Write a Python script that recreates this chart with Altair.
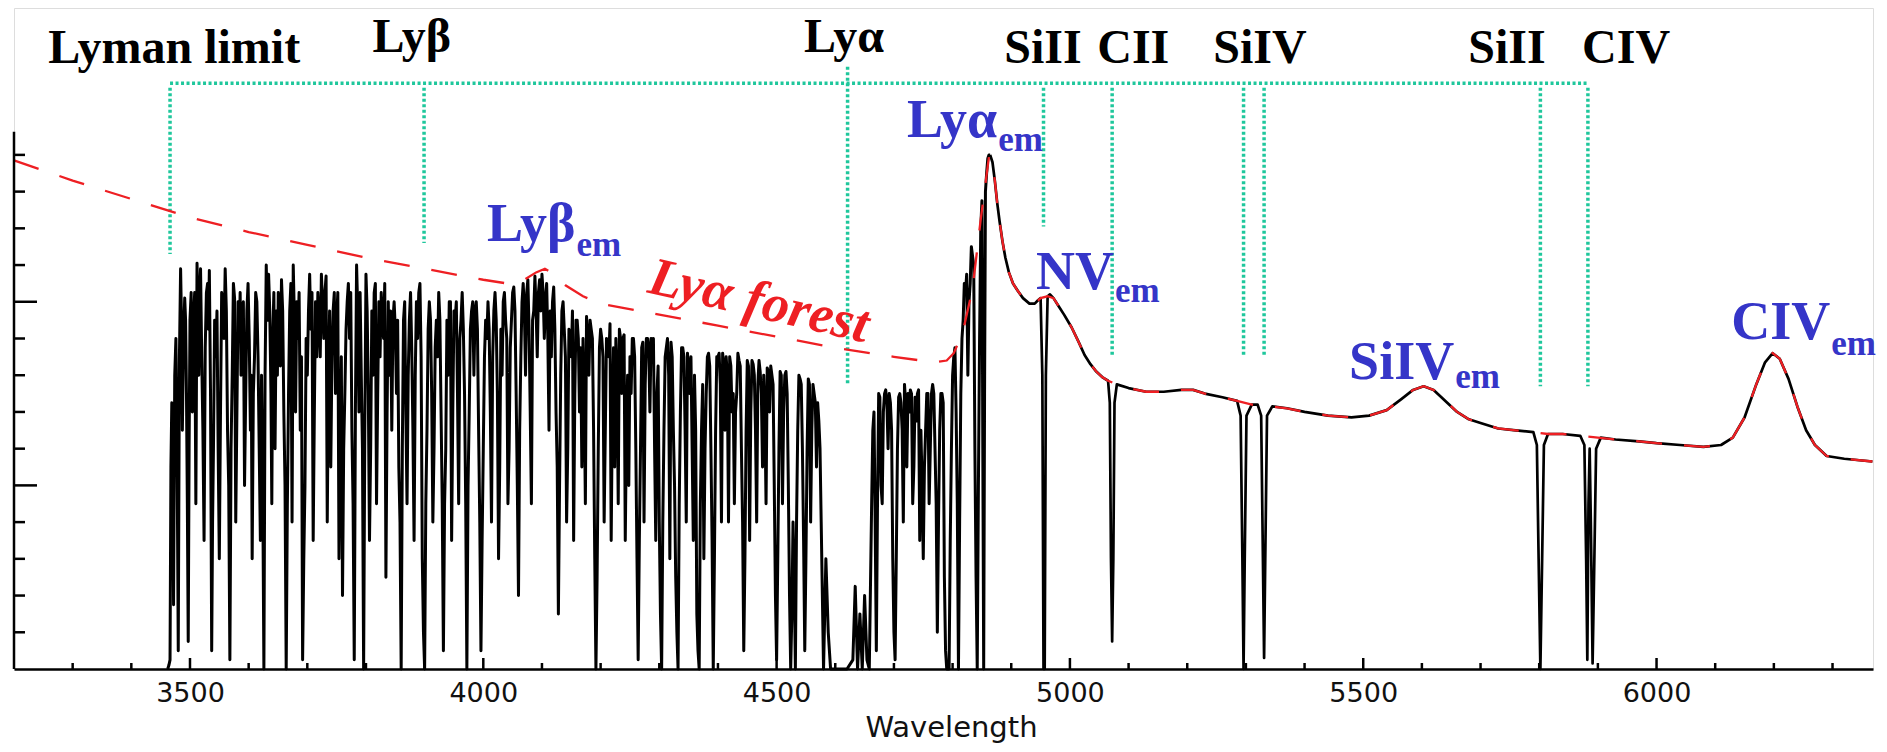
import altair as alt
import pandas as pd

# ---------------- data ----------------
# Lyman-alpha forest part of the spectrum (wavelength, flux): main samples
forest_wave = [
    3462, 3466, 3469, 3472, 3476, 3480, 3484, 3487, 3491, 3494,
    3497, 3500, 3504, 3508, 3512, 3515, 3518, 3522, 3526, 3530,
    3533, 3537, 3540, 3544, 3548, 3552, 3556, 3560, 3564, 3568,
    3572, 3576, 3580, 3584, 3587, 3591, 3595, 3599, 3603, 3606,
    3610, 3614, 3618, 3622, 3626, 3630, 3634, 3638, 3641, 3645,
    3649, 3652, 3656, 3660, 3664, 3668, 3672, 3676, 3680, 3684,
    3688, 3692, 3696, 3700, 3704, 3708, 3712, 3716, 3720, 3724,
    3728, 3732, 3736, 3740, 3744, 3748, 3752, 3756, 3760, 3764,
    3768, 3772, 3776, 3780, 3784, 3788, 3792, 3796, 3800, 3804,
    3808, 3812, 3816, 3820, 3824, 3828, 3832, 3836, 3840, 3844,
    3848, 3852, 3856, 3860, 3864, 3868, 3872, 3876, 3880, 3884,
    3888, 3892, 3896, 3900, 3904, 3908, 3912, 3916, 3920, 3924,
    3928, 3932, 3936, 3940, 3944, 3948, 3952, 3956, 3960, 3964,
    3968, 3972, 3976, 3980, 3984, 3988, 3992, 3996, 4000, 4004,
    4008, 4012, 4016, 4020, 4024, 4028, 4032, 4036, 4040, 4044,
    4048, 4052, 4056, 4060, 4064, 4068, 4072, 4076, 4080, 4084,
    4088, 4092, 4096, 4100, 4104, 4108, 4112, 4116, 4120, 4124,
    4128, 4132, 4136, 4140, 4144, 4148, 4152, 4156, 4160, 4164,
    4168, 4172, 4176, 4180, 4184, 4188, 4192, 4196, 4200, 4204,
    4208, 4212, 4216, 4220, 4224, 4228, 4232, 4236, 4240, 4244,
    4248, 4252, 4256, 4260, 4264, 4268, 4272, 4276, 4280, 4284,
    4288, 4292, 4296, 4300, 4304, 4308, 4312, 4316, 4320, 4324,
    4328, 4332, 4336, 4340, 4344, 4348, 4352, 4356, 4360, 4364,
    4368, 4372, 4376, 4380, 4384, 4388, 4392, 4396, 4400, 4404,
    4408, 4412, 4416, 4420, 4424, 4428, 4432, 4436, 4440, 4444,
    4448, 4452, 4456, 4460, 4464, 4468, 4472, 4476, 4480, 4484,
    4488, 4492, 4496, 4500, 4504, 4508, 4512, 4516, 4520, 4524,
    4528, 4532, 4536, 4540, 4544, 4548, 4552, 4556, 4560, 4564,
    4568, 4572, 4576, 4580, 4584, 4588, 4592, 4600, 4610, 4620,
    4630, 4634, 4638, 4642, 4646, 4650, 4654, 4658, 4662, 4666,
    4670, 4674, 4678, 4682, 4686, 4690, 4694, 4698, 4702, 4706,
    4710, 4714, 4718, 4722, 4726, 4730, 4734, 4738, 4742, 4746,
    4750, 4754, 4758, 4762, 4766, 4770, 4774, 4778, 4782, 4786,
    4790, 4794, 4798, 4802, 4806, 4810, 4814, 4818, 4822, 4826,
    4830, 4834, 4838, 4842, 4846, 4850, 4853, 4856, 4860, 4864,
]
forest_flux = [
    0.00, 0.05, 1.45, 0.35, 1.80, 0.10, 2.18, 1.30, 2.02, 1.50,
    0.15, 1.90, 1.40, 2.05, 2.21, 1.60, 2.18, 1.30, 1.75, 2.10,
    2.17, 0.10, 1.20, 1.70, 1.20, 1.40, 2.00, 2.18, 1.30, 0.05,
    1.60, 2.02, 1.40, 1.80, 1.60, 2.00, 1.50, 2.10, 1.30, 0.60,
    1.70, 2.00, 1.20, 1.60, 0.00, 2.20, 2.15, 1.50, 1.80, 1.20,
    1.60, 1.85, 2.12, 1.40, 0.00, 1.50, 2.10, 2.20, 1.40, 1.80,
    1.30, 0.05, 1.00, 1.60, 2.15, 2.05, 1.40, 1.70, 1.90, 2.15,
    1.80, 2.14, 1.60, 1.10, 1.95, 1.50, 2.05, 1.20, 0.40, 1.50,
    2.00, 1.80, 1.30, 0.05, 2.20, 1.40, 1.60, 0.00, 2.15, 1.50,
    1.20, 1.60, 2.10, 1.50, 1.70, 1.90, 2.10, 1.40, 1.60, 1.30,
    2.00, 1.50, 1.10, 0.00, 1.90, 1.40, 1.60, 2.05, 1.30, 1.60,
    1.80, 2.10, 0.60, 0.00, 1.30, 2.00, 1.50, 1.20, 1.90, 2.05,
    1.40, 0.10, 1.20, 1.60, 2.00, 1.40, 1.90, 1.50, 1.80, 2.05,
    1.50, 0.00, 1.40, 1.95, 1.60, 2.00, 1.30, 0.10, 1.20, 1.90,
    2.00, 1.40, 1.70, 2.05, 1.50, 1.10, 1.60, 2.05, 1.80, 1.20,
    1.90, 2.08, 1.50, 0.40, 1.70, 2.10, 1.60, 2.12, 1.40, 1.90,
    2.14, 1.70, 2.12, 2.15, 1.80, 2.10, 1.30, 1.70, 2.08, 1.40,
    0.30, 1.60, 2.00, 1.70, 1.20, 1.80, 1.95, 1.50, 1.90, 1.40,
    1.10, 1.50, 1.92, 1.60, 1.85, 1.30, 0.00, 1.20, 1.85, 1.70,
    1.30, 1.75, 1.88, 1.40, 1.10, 1.60, 1.85, 1.50, 1.82, 1.30,
    1.00, 1.50, 1.80, 1.20, 0.05, 1.20, 1.78, 1.55, 1.80, 1.40,
    1.70, 1.20, 1.50, 0.80, 0.00, 1.30, 1.75, 1.60, 1.78, 1.30,
    0.50, 0.00, 1.40, 1.75, 1.30, 1.72, 1.50, 1.20, 1.60, 0.30,
    0.00, 1.30, 0.60, 1.50, 1.72, 1.20, 0.00, 1.30, 1.70, 1.55,
    1.72, 1.30, 1.60, 1.70, 1.40, 0.90, 1.50, 1.68, 1.20, 0.10,
    1.30, 1.65, 1.40, 1.66, 1.30, 1.55, 1.62, 1.10, 1.40, 1.64,
    1.40, 1.60, 1.00, 0.05, 1.20, 1.60, 1.40, 1.62, 1.00, 0.00,
    0.80, 0.00, 1.30, 1.58, 1.20, 0.10, 1.20, 1.55, 1.30, 1.50,
    1.10, 1.35, 0.80, 0.00, 0.60, 0.20, 0.00, 0.00, 0.00, 0.00,
    0.05, 0.45, 0.00, 0.30, 0.00, 0.40, 0.05, 0.00, 0.90, 1.40,
    0.10, 1.50, 1.00, 1.40, 1.52, 1.20, 1.45, 0.60, 0.05, 1.20,
    1.50, 1.30, 1.55, 1.10, 1.40, 1.50, 1.10, 1.35, 1.52, 1.30,
    0.60, 1.30, 1.50, 1.20, 1.55, 1.20, 0.20, 1.30, 1.50, 0.50,
    0.00, 0.00, 1.20, 1.70, 1.40, 0.00, 1.50, 1.90, 2.05, 1.60,
    2.10, 2.25, 1.20, 0.00, 1.80, 2.55, 0.00, 2.60, 2.78, 2.80,
]

# forest: additional samples between the main ones
forest_mid_wave = [
    3464, 3467.5, 3470.5, 3474, 3478, 3482, 3485.5, 3489, 3492.5, 3495.5,
    3498.5, 3502, 3506, 3510, 3513.5, 3516.5, 3520, 3524, 3528, 3531.5,
    3535, 3538.5, 3542, 3546, 3550, 3554, 3558, 3562, 3566, 3570,
    3574, 3578, 3582, 3585.5, 3589, 3593, 3597, 3601, 3604.5, 3608,
    3612, 3616, 3620, 3624, 3628, 3632, 3636, 3639.5, 3643, 3647,
    3650.5, 3654, 3658, 3662, 3666, 3670, 3674, 3678, 3682, 3686,
    3690, 3694, 3698, 3702, 3706, 3710, 3714, 3718, 3722, 3726,
    3730, 3734, 3738, 3742, 3746, 3750, 3754, 3758, 3762, 3766,
    3770, 3774, 3778, 3782, 3786, 3790, 3794, 3798, 3802, 3806,
    3810, 3814, 3818, 3822, 3826, 3830, 3834, 3838, 3842, 3846,
    3850, 3854, 3858, 3862, 3866, 3870, 3874, 3878, 3882, 3886,
    3890, 3894, 3898, 3902, 3906, 3910, 3914, 3918, 3922, 3926,
    3930, 3934, 3938, 3942, 3946, 3950, 3954, 3958, 3962, 3966,
    3970, 3974, 3978, 3982, 3986, 3990, 3994, 3998, 4002, 4006,
    4010, 4014, 4018, 4022, 4026, 4030, 4034, 4038, 4042, 4046,
    4050, 4054, 4058, 4062, 4066, 4070, 4074, 4078, 4082, 4086,
    4090, 4094, 4098, 4102, 4106, 4110, 4114, 4118, 4122, 4126,
    4130, 4134, 4138, 4142, 4146, 4150, 4154, 4158, 4162, 4166,
    4170, 4174, 4178, 4182, 4186, 4190, 4194, 4198, 4202, 4206,
    4210, 4214, 4218, 4222, 4226, 4230, 4234, 4238, 4242, 4246,
    4250, 4254, 4258, 4262, 4266, 4270, 4274, 4278, 4282, 4286,
    4290, 4294, 4298, 4302, 4306, 4310, 4314, 4318, 4322, 4326,
    4330, 4334, 4338, 4342, 4346, 4350, 4354, 4358, 4362, 4366,
    4370, 4374, 4378, 4382, 4386, 4390, 4394, 4398, 4402, 4406,
    4410, 4414, 4418, 4422, 4426, 4430, 4434, 4438, 4442, 4446,
    4450, 4454, 4458, 4462, 4466, 4470, 4474, 4478, 4482, 4486,
    4490, 4494, 4498, 4502, 4506, 4510, 4514, 4518, 4522, 4526,
    4530, 4534, 4538, 4542, 4546, 4550, 4554, 4558, 4562, 4566,
    4570, 4574, 4578, 4582, 4586, 4590, 4664,
    4668, 4672, 4676, 4680, 4684, 4688, 4692, 4696, 4700, 4704, 4708,
    4712, 4716, 4720, 4724, 4728, 4732, 4736, 4740, 4744, 4748,
    4752, 4756, 4760, 4764, 4768, 4772, 4776, 4780, 4784, 4788,
    4792, 4796, 4800, 4804, 4808, 4812, 4816, 4820, 4824, 4828,
    4832, 4836, 4840, 4844, 4848, 4851.5, 4854.5, 4858, 4862,
]
forest_mid_flux = [
    0.02, 1.10, 1.20, 1.60, 1.20, 1.70, 1.90, 1.80, 1.90, 0.90,
    1.20, 2.05, 1.90, 0.90, 1.95, 2.05, 1.70, 0.70, 2.05, 1.85,
    1.50, 0.80, 1.90, 1.95, 0.60, 2.05, 1.80, 1.95, 1.00, 1.20,
    2.10, 0.80, 2.00, 2.05, 1.95, 1.00, 1.95, 1.80, 1.60, 1.50,
    2.05, 1.70, 0.70, 1.00, 1.60, 1.90, 1.95, 0.90, 2.05, 1.95,
    2.05, 1.65, 1.95, 1.00, 0.90, 1.95, 0.80, 1.90, 2.00, 2.05,
    1.70, 0.60, 1.80, 1.95, 1.85, 0.70, 2.00, 2.05, 1.70, 2.00,
    2.05, 0.80, 1.95, 1.70, 2.05, 1.90, 0.60, 1.70, 1.20, 1.85,
    2.10, 2.05, 0.90, 1.40, 1.95, 2.05, 1.20, 1.30, 1.95, 0.70,
    1.95, 2.05, 0.90, 2.00, 2.05, 1.80, 0.50, 2.00, 1.95, 1.90,
    1.85, 1.90, 0.80, 1.20, 2.00, 0.90, 1.90, 1.75, 0.70, 2.00,
    2.05, 1.70, 0.20, 0.90, 1.85, 1.90, 0.80, 1.75, 1.70, 1.90,
    0.90, 0.90, 1.90, 2.00, 0.70, 1.95, 2.00, 0.90, 1.90, 1.85,
    0.90, 1.00, 1.85, 2.00, 1.95, 1.85, 0.80, 0.70, 1.70, 1.80,
    1.85, 0.80, 1.95, 1.90, 0.60, 1.85, 2.00, 1.90, 0.90, 1.75,
    2.05, 1.95, 1.00, 1.30, 2.00, 1.95, 2.05, 1.85, 0.90, 1.95,
    1.95, 2.05, 1.95, 2.05, 2.00, 1.80, 1.95, 2.00, 1.85, 1.10,
    1.00, 1.95, 1.85, 0.80, 1.85, 1.70, 0.70, 1.90, 1.80, 1.75,
    1.80, 0.90, 1.80, 1.90, 1.80, 0.60, 0.50, 1.75, 1.80, 0.80,
    1.80, 1.70, 0.70, 1.75, 1.80, 0.90, 1.80, 1.80, 0.70, 1.60,
    1.70, 1.80, 1.70, 0.60, 0.70, 1.75, 0.80, 1.80, 1.75, 1.80,
    1.80, 0.70, 1.65, 0.30, 0.80, 1.70, 1.80, 0.60, 1.70, 1.00,
    0.20, 0.90, 1.75, 1.70, 0.80, 1.65, 1.70, 0.70, 1.30, 0.10,
    0.90, 1.55, 1.20, 1.70, 1.65, 0.70, 0.60, 1.70, 1.72, 0.80,
    1.65, 1.70, 0.80, 1.65, 1.50, 1.40, 1.72, 1.65, 0.80, 0.60,
    1.68, 0.70, 1.68, 1.60, 0.80, 1.68, 1.50, 1.60, 0.90, 1.62,
    1.65, 1.55, 0.40, 0.60, 1.62, 0.90, 1.60, 1.50, 0.40, 0.30,
    0.50, 0.80, 1.60, 1.55, 0.70, 0.60, 1.58, 0.80, 1.55, 1.45,
    1.45, 1.20, 0.40, 0.30, 0.40, 0.10, 1.30,
    0.80, 0.90, 1.48, 0.90, 1.50, 1.45, 1.50, 1.30, 0.20, 0.60, 1.48,
    1.45, 0.80, 1.45, 1.50, 1.52, 0.90, 1.48, 1.50, 0.70, 1.00,
    1.10, 1.50, 0.90, 1.50, 1.50, 0.90, 0.80, 1.50, 1.45, 0.10,
    0.00, 0.70, 1.60, 1.75, 0.90, 0.80, 1.80, 2.10, 2.15, 2.00,
    2.30, 2.20, 0.50, 1.00, 2.40, 1.20, 1.50, 2.70, 2.80,
]

# red side of the spectrum (emission lines + metal absorption lines)
emis_wave = [
    4864, 4868, 4872, 4876, 4880, 4885, 4890, 4896, 4903, 4911, 4920,
    4931, 4940, 4946, 4950, 4953, 4955, 4957, 4959, 4962, 4966,
    4972, 4980, 4990, 5003, 5015, 5025, 5035, 5045, 5055, 5065,
    5068, 5070, 5072, 5074, 5076, 5080, 5100, 5130, 5160, 5190,
    5210, 5230, 5260, 5285, 5291, 5294, 5296, 5298, 5301, 5310,
    5320, 5326, 5329, 5331, 5333, 5336, 5345, 5370, 5400, 5440,
    5480, 5510, 5540, 5565, 5585, 5603, 5620, 5640, 5660, 5680,
    5700, 5730, 5760, 5790, 5796, 5799, 5802, 5805, 5808, 5815,
    5840, 5870, 5877, 5880, 5882, 5884, 5886, 5888, 5891, 5894,
    5897, 5905, 5930, 5970, 6000, 6040, 6080, 6110, 6130, 6150,
    6170, 6185, 6198, 6210, 6225, 6240, 6255, 6270, 6290, 6320,
    6368,
]
emis_flux = [
    2.80, 2.76, 2.66, 2.54, 2.44, 2.33, 2.24, 2.16, 2.10, 2.06, 2.02,
    1.99, 1.99, 2.01, 2.02, 1.60, 0.00, 0.00, 1.60, 2.03, 2.04,
    2.02, 1.98, 1.93, 1.86, 1.78, 1.71, 1.66, 1.62, 1.59, 1.57,
    1.45, 0.60, 0.15, 0.60, 1.45, 1.55, 1.53, 1.51, 1.51, 1.52,
    1.52, 1.50, 1.48, 1.46, 1.38, 0.60, 0.00, 0.60, 1.38, 1.44,
    1.44, 1.38, 0.60, 0.06, 0.60, 1.38, 1.43, 1.42, 1.40, 1.38,
    1.37, 1.38, 1.41, 1.47, 1.52, 1.54, 1.52, 1.46, 1.40, 1.36,
    1.34, 1.31, 1.30, 1.29, 1.22, 0.60, 0.00, 0.60, 1.22, 1.28,
    1.28, 1.27, 1.22, 0.60, 0.05, 0.90, 1.20, 0.80, 0.03, 0.60,
    1.20, 1.26, 1.25, 1.24, 1.23, 1.22, 1.21, 1.22, 1.26, 1.37,
    1.55, 1.67, 1.72, 1.69, 1.58, 1.43, 1.30, 1.22, 1.16, 1.145,
    1.13,
]

# continuum (red dashed)
cont_wave = [
    3200, 3300, 3400, 3500, 3600, 3700, 3800, 3900, 4000, 4040,
    4070, 4090, 4105, 4120, 4140, 4170, 4200, 4300, 4400, 4500,
    4600, 4700, 4770, 4790, 4802, 4817, 4834, 4848, 4862, 4868,
    4872, 4876, 4880, 4885, 4890, 4896, 4903, 4911, 4920, 4931,
    4940, 4950, 4962, 4972, 4980, 4990, 5003, 5015, 5025, 5035,
    5045, 5055, 5065, 5080, 5100, 5130, 5160, 5190, 5210, 5230,
    5260, 5285, 5310, 5345, 5370, 5400, 5440, 5480, 5510, 5540,
    5565, 5585, 5603, 5620, 5640, 5660, 5680, 5700, 5730, 5760,
    5790, 5815, 5840, 5870, 5900, 5930, 5970, 6000, 6040, 6080,
    6110, 6130, 6150, 6170, 6185, 6198, 6210, 6225, 6240, 6255,
    6270, 6290, 6320, 6368,
]
cont_flux = [
    2.77, 2.66, 2.56, 2.46, 2.38, 2.31, 2.24, 2.18, 2.12, 2.10,
    2.12, 2.16, 2.18, 2.15, 2.09, 2.03, 1.99, 1.93, 1.87, 1.81,
    1.75, 1.70, 1.67, 1.68, 1.72, 1.83, 2.07, 2.45, 2.79, 2.76,
    2.66, 2.54, 2.44, 2.33, 2.24, 2.16, 2.10, 2.06, 2.02, 1.99,
    1.99, 2.02, 2.03, 2.02, 1.98, 1.93, 1.86, 1.78, 1.71, 1.66,
    1.62, 1.59, 1.57, 1.55, 1.53, 1.51, 1.51, 1.52, 1.52, 1.50,
    1.48, 1.46, 1.44, 1.43, 1.42, 1.40, 1.38, 1.37, 1.38, 1.41,
    1.47, 1.52, 1.54, 1.52, 1.46, 1.40, 1.36, 1.34, 1.31, 1.30,
    1.29, 1.28, 1.28, 1.27, 1.26, 1.25, 1.24, 1.23, 1.22, 1.21,
    1.22, 1.26, 1.37, 1.55, 1.67, 1.72, 1.69, 1.58, 1.43, 1.30,
    1.22, 1.16, 1.145, 1.13,
]

# absorber (z ~ 2.8) line markers (green dotted)
marker_wave = [3466, 3899, 4621, 4955, 5072, 5296, 5331, 5802, 5883]
marker_top = [3.165, 3.165, 3.28, 3.165, 3.165, 3.165, 3.165, 3.165, 3.165]
marker_bottom = [2.26, 2.32, 1.55, 2.41, 1.71, 1.71, 1.71, 1.54, 1.54]
bracket_start = [3466]
bracket_end = [5883]
bracket_level = [3.19]

# absorber labels
abs_text = ["Lyman limit", "Lyβ", "Lyα", "SiII", "CII", "SiIV", "SiII", "CIV"]
abs_wave = [3473, 3878, 4615, 4954, 5108, 5324, 5745, 5948]
abs_flux = [3.30, 3.36, 3.36, 3.30, 3.30, 3.30, 3.30, 3.30]

# emission-line labels (main part + "em" subscript)
em_text = ["Lyβ", "Lyα", "NV", "SiIV", "CIV"]
em_sub = ["em", "em", "em", "em", "em"]
em_wave = [4157, 4876, 5075, 5655, 6296]
em_main_flux = [2.33, 2.90, 2.07, 1.58, 1.80]
em_sub_flux = [2.25, 2.82, 2.00, 1.53, 1.71]

forest_text = ["Lyα forest"]
forest_text_wave = [4470]
forest_text_flux = [2.0]

# axis ticks
x_label_values = [3500, 4000, 4500, 5000, 5500, 6000]
x_minor_ticks = [3300, 3400, 3600, 3700, 3800, 3900, 4100, 4200, 4300, 4400,
                 4600, 4700, 4800, 4900, 5100, 5200, 5300, 5400, 5600, 5700,
                 5800, 5900, 6100, 6200, 6300]
y_minor_ticks = [0.2, 0.4, 0.6, 0.8, 1.2, 1.4, 1.6, 1.8, 2.2, 2.4, 2.6, 2.8]
y_major_ticks = [1.0, 2.0]
y_axis_span = [0.0, 2.926]

# ---------------- chart ----------------
W, H = 1859, 661
xs = alt.Scale(domain=[3200, 6369], nice=False, zero=False)
ys = alt.Scale(domain=[0, 3.6], nice=False, zero=False)
GREEN = "#1fc79c"
RED = "#ee1f23"
BLUE = "#3535c8"
SERIF = "Liberation Serif"

x_axis = alt.Axis(
    values=x_label_values, format="d", ticks=False, tickSize=0, grid=False,
    domain=True, domainColor="black", domainWidth=2.5,
    labelFont="DejaVu Sans", labelFontSize=27, labelColor="#111111", labelPadding=11,
    title="Wavelength", titleFont="DejaVu Sans", titleFontSize=29,
    titleFontWeight="normal", titleColor="#111111", titleX=937, titleY=67,
    titleAlign="center", titleBaseline="alphabetic",
)


def X(field):
    return alt.X(field, scale=xs, axis=x_axis)


def Y(field):
    return alt.Y(field, scale=ys, axis=None)


forest_df = pd.DataFrame({"wave": forest_wave + forest_mid_wave,
                          "flux": forest_flux + forest_mid_flux}).sort_values("wave")
emis_df = pd.DataFrame({"wave": emis_wave, "flux": emis_flux})
cont_df = pd.DataFrame({"wave": cont_wave, "flux": cont_flux})
marker_df = pd.DataFrame({"wave": marker_wave, "top": marker_top, "bottom": marker_bottom})
bracket_df = pd.DataFrame({"start": bracket_start, "end": bracket_end, "level": bracket_level})
abs_df = pd.DataFrame({"text": abs_text, "wave": abs_wave, "flux": abs_flux})
em_df = pd.DataFrame({"text": em_text, "sub": em_sub, "wave": em_wave,
                      "fmain": em_main_flux, "fsub": em_sub_flux})
ftext_df = pd.DataFrame({"text": forest_text, "wave": forest_text_wave, "flux": forest_text_flux})

forest_line = alt.Chart(forest_df).mark_line(
    color="black", strokeWidth=3.0, strokeJoin="round").encode(x=X("wave:Q"), y=Y("flux:Q"))

emis_line = alt.Chart(emis_df).mark_line(
    color="black", strokeWidth=2.7, strokeJoin="round").encode(x=X("wave:Q"), y=Y("flux:Q"))

continuum = alt.Chart(cont_df).mark_line(color=RED, strokeWidth=2.3, strokeDash=[26, 22]).encode(
    x=X("wave:Q"), y=Y("flux:Q"))

markers = alt.Chart(marker_df).mark_rule(color=GREEN, strokeWidth=3.5, strokeDash=[3, 2.5]).encode(
    x=X("wave:Q"), y=Y("top:Q"), y2="bottom:Q")

bracket = alt.Chart(bracket_df).mark_rule(color=GREEN, strokeWidth=3.5, strokeDash=[3, 2.5]).encode(
    x=X("start:Q"), x2="end:Q", y=Y("level:Q"))

yaxis_line = alt.Chart(pd.DataFrame({"lo": [y_axis_span[0]], "hi": [y_axis_span[1]]})).mark_rule(
    color="black", strokeWidth=2.5).encode(x=alt.value(0), y=Y("lo:Q"), y2="hi:Q")

y_minor = alt.Chart(pd.DataFrame({"v": y_minor_ticks})).mark_rule(color="black", strokeWidth=2.5).encode(
    y=Y("v:Q"), x=alt.value(0), x2=alt.value(11))
y_major = alt.Chart(pd.DataFrame({"v": y_major_ticks})).mark_rule(color="black", strokeWidth=2.5).encode(
    y=Y("v:Q"), x=alt.value(0), x2=alt.value(23))
x_minor = alt.Chart(pd.DataFrame({"v": x_minor_ticks})).mark_rule(color="black", strokeWidth=2.5).encode(
    x=X("v:Q"), y=alt.value(H), y2=alt.value(H - 6))
x_major = alt.Chart(pd.DataFrame({"v": x_label_values})).mark_rule(color="black", strokeWidth=2.5).encode(
    x=X("v:Q"), y=alt.value(H), y2=alt.value(H - 11))

abs_labels = alt.Chart(abs_df).mark_text(
    font=SERIF, fontWeight="bold", fontSize=48, color="black", align="center", baseline="alphabetic"
).encode(x=X("wave:Q"), y=Y("flux:Q"), text="text:N")

em_main = alt.Chart(em_df).mark_text(
    font=SERIF, fontWeight="bold", fontSize=54, color=BLUE, align="right", baseline="alphabetic"
).encode(x=X("wave:Q"), y=Y("fmain:Q"), text="text:N")

em_subs = alt.Chart(em_df).mark_text(
    font=SERIF, fontWeight="bold", fontSize=35, color=BLUE, align="left", baseline="alphabetic", dx=1
).encode(x=X("wave:Q"), y=Y("fsub:Q"), text="sub:N")

forest_label = alt.Chart(ftext_df).mark_text(
    font=SERIF, fontWeight="bold", fontStyle="italic", fontSize=54, color=RED,
    align="center", baseline="middle", angle=13
).encode(x=X("wave:Q"), y=Y("flux:Q"), text="text:N")

chart = alt.layer(
    markers, bracket, forest_line, emis_line, continuum, yaxis_line, y_minor, y_major,
    x_minor, x_major, abs_labels, em_main, em_subs, forest_label,
).properties(
    width=W, height=H,
    autosize=alt.AutoSizeParams(type="none"),
    padding={"left": 6, "top": 0, "right": 4, "bottom": 74},
).configure_view(stroke=None).configure(background="white")

chart.save("out.html", embed_options={"renderer": "svg", "actions": False})
